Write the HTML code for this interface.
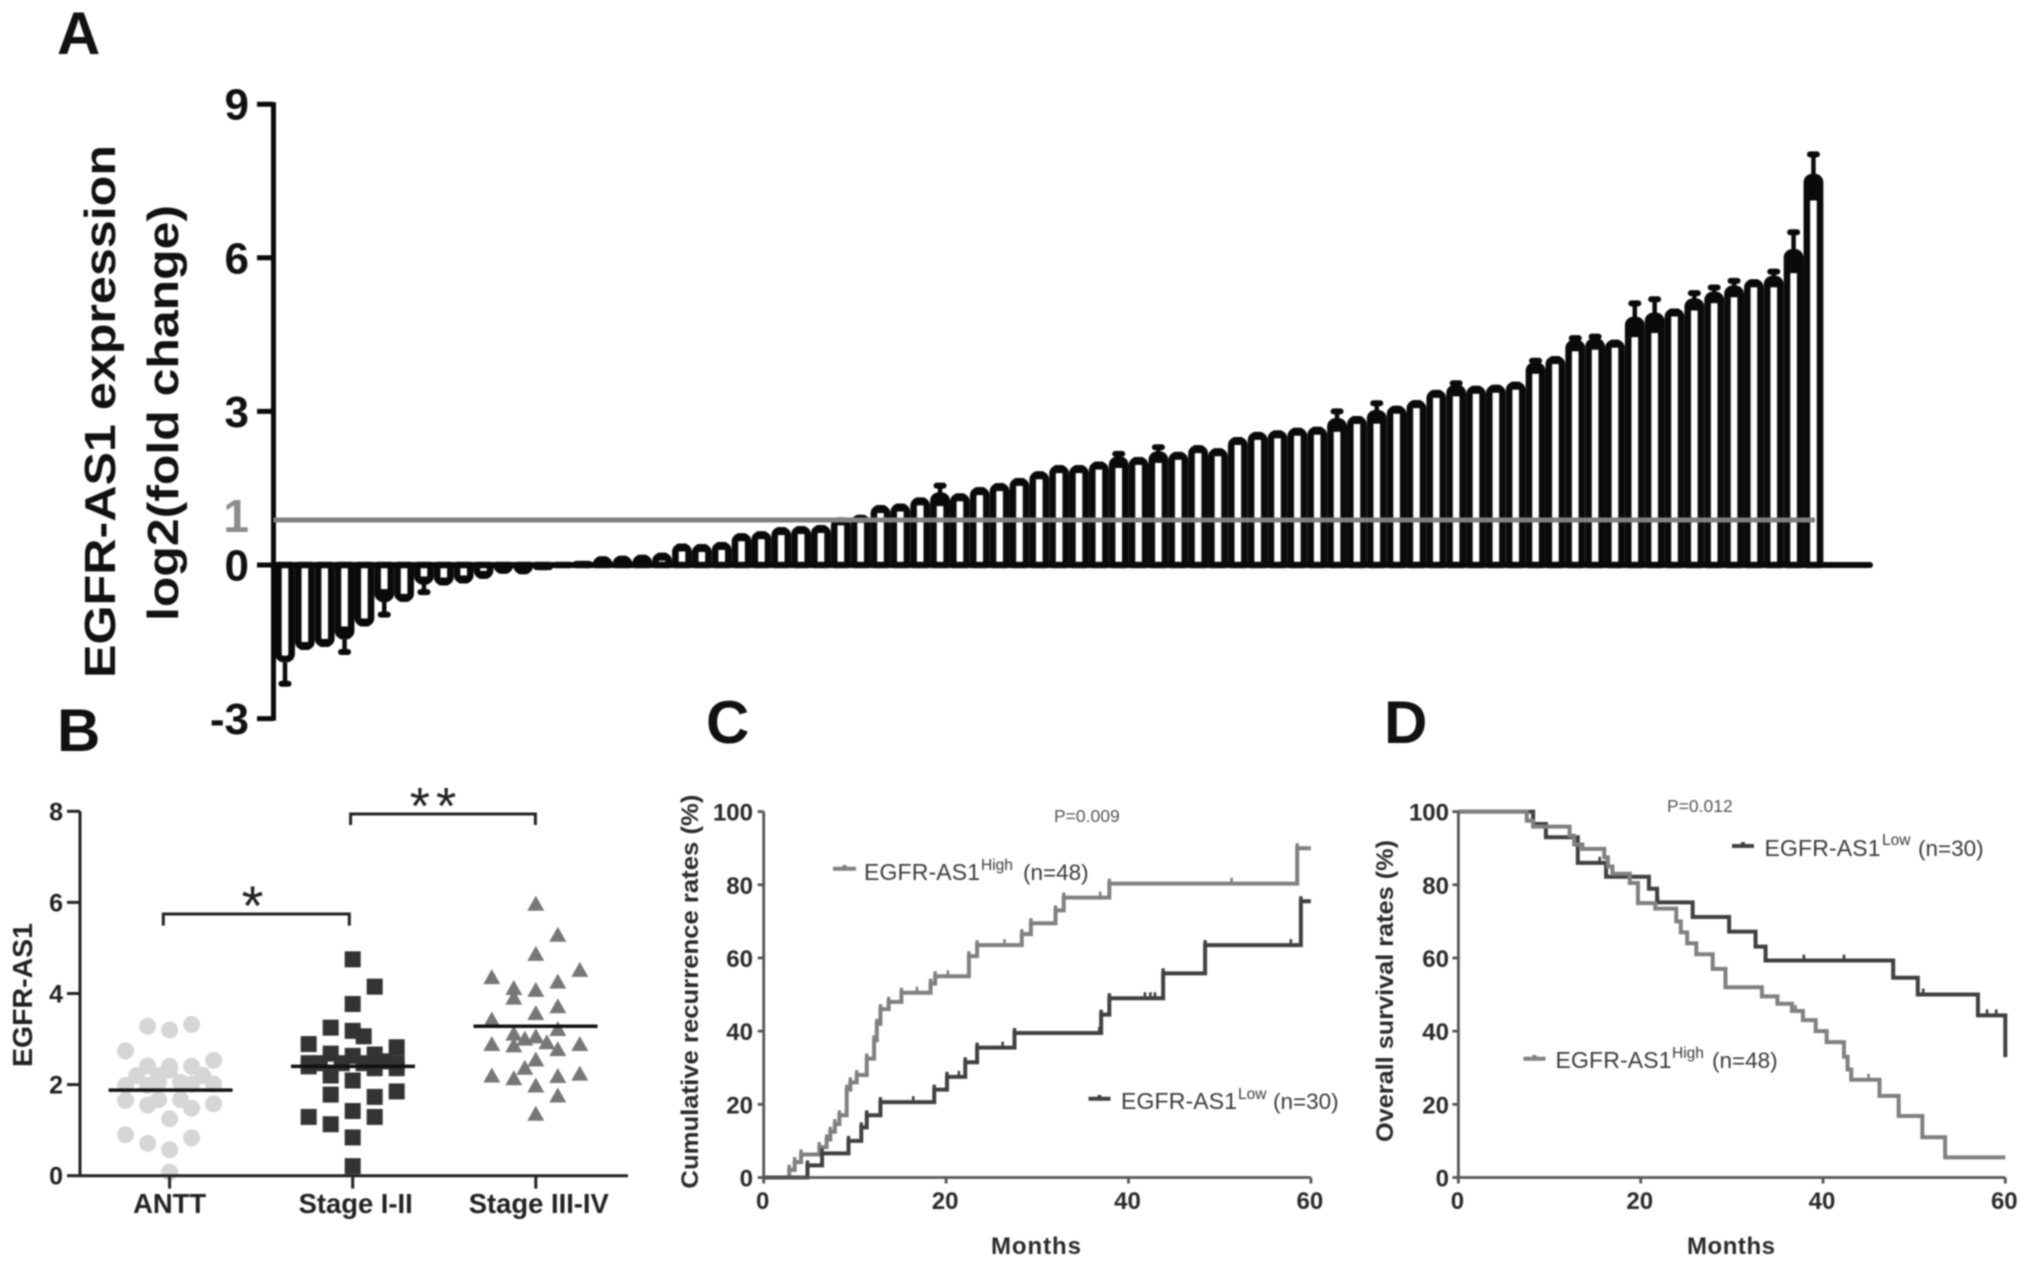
<!DOCTYPE html>
<html lang="en">
<head>
<meta charset="utf-8">
<title>EGFR-AS1 expression figure</title>
<style>
html,body{margin:0;padding:0;background:#fff;}
svg{display:block;width:2031px;height:1266px;filter:blur(0.7px);font-family:"Liberation Sans",sans-serif;}
text{font-family:"Liberation Sans",sans-serif;}
.b{font-weight:bold;}
</style>
</head>
<body>
<svg id="fig" xmlns="http://www.w3.org/2000/svg" width="2031" height="1266" viewBox="0 0 2031 1266">
<rect x="0" y="0" width="2031" height="1266" fill="#fff"/>

<text class="b" x="57" y="54" font-size="60" fill="#111">A</text>
<text class="b" x="57" y="751" font-size="60" fill="#111">B</text>
<text class="b" x="706" y="743" font-size="60" fill="#111">C</text>
<text class="b" x="1384" y="743" font-size="60" fill="#111">D</text>

<text class="b" transform="translate(115,678) rotate(-90)" font-size="44" textLength="533" lengthAdjust="spacingAndGlyphs" fill="#111">EGFR-AS1 expression</text>
<text class="b" transform="translate(178,621) rotate(-90)" font-size="44" textLength="416" lengthAdjust="spacingAndGlyphs" fill="#111">log2(fold change)</text>

<text class="b" transform="translate(32,1067) rotate(-90)" font-size="28" textLength="144" lengthAdjust="spacingAndGlyphs" fill="#222">EGFR-AS1</text>
<text x="252.5" y="925" font-size="56" text-anchor="middle" fill="#222">*</text>
<text x="436" y="824" font-size="52" text-anchor="middle" letter-spacing="6" fill="#222">**</text>
<path d="M163.3 925.6V914H349.3V925.6" fill="none" stroke="#222" stroke-width="3"/>
<path d="M350.6 825V814H535.4V825" fill="none" stroke="#222" stroke-width="3"/>

<text class="b" transform="translate(698,1188.6) rotate(-90)" font-size="24" textLength="394" lengthAdjust="spacingAndGlyphs" fill="#2a2a2a">Cumulative recurrence rates (%)</text>
<text class="b" x="991" y="1254" font-size="24" textLength="90" lengthAdjust="spacing" fill="#2a2a2a">Months</text>
<text x="1054" y="822" font-size="17.5" fill="#555">P=0.009</text>
<g>
<path d="M833 868.8H856M844.5 865V869" stroke="#808080" stroke-width="4" fill="none"/>
<text x="864" y="880" font-size="23" textLength="116" fill="#3a3a3a">EGFR-AS1</text>
<text x="981" y="870" font-size="15.5" fill="#3a3a3a">High</text>
<text x="1023" y="880" font-size="22.5" fill="#3a3a3a">(n=48)</text>
</g>
<g>
<path d="M1088.5 1098.7H1110.5M1099.5 1095V1099" stroke="#404040" stroke-width="4" fill="none"/>
<text x="1121" y="1109" font-size="23" textLength="116" fill="#3a3a3a">EGFR-AS1</text>
<text x="1238" y="1099" font-size="15.5" fill="#3a3a3a">Low</text>
<text x="1273" y="1109" font-size="22.5" fill="#3a3a3a">(n=30)</text>
</g>

<text class="b" transform="translate(1393,1142) rotate(-90)" font-size="24" textLength="302" lengthAdjust="spacingAndGlyphs" fill="#2a2a2a">Overall survival rates (%)</text>
<text class="b" x="1687" y="1254" font-size="24" textLength="88" lengthAdjust="spacing" fill="#2a2a2a">Months</text>
<text x="1667" y="812" font-size="17.5" fill="#555">P=0.012</text>
<g>
<path d="M1732 846H1754M1743 842V846" stroke="#404040" stroke-width="4" fill="none"/>
<text x="1764.5" y="856" font-size="23" textLength="116" fill="#3a3a3a">EGFR-AS1</text>
<text x="1882" y="845" font-size="15.5" fill="#3a3a3a">Low</text>
<text x="1918" y="856" font-size="22.5" fill="#3a3a3a">(n=30)</text>
</g>
<g>
<path d="M1523.5 1058.7H1545.5M1534.5 1055V1059" stroke="#808080" stroke-width="4" fill="none"/>
<text x="1555.5" y="1068" font-size="23" textLength="116" fill="#3a3a3a">EGFR-AS1</text>
<text x="1672" y="1058" font-size="15.5" fill="#3a3a3a">High</text>
<text x="1712" y="1068" font-size="22.5" fill="#3a3a3a">(n=48)</text>
</g>
</svg>

<script>
/* Panel A data */
var barValues = [-1.9,-1.66,-1.6,-1.45,-1.2,-0.72,-0.72,-0.38,-0.4,-0.36,-0.27,-0.17,-0.18,-0.1,-0.01,0.08,0.17,0.18,0.2,0.24,0.42,0.41,0.45,0.62,0.66,0.74,0.76,0.78,0.93,0.98,1.17,1.2,1.32,1.35,1.4,1.52,1.6,1.7,1.83,1.95,1.95,2.02,2.05,2.11,2.15,2.21,2.34,2.28,2.5,2.6,2.63,2.68,2.7,2.8,2.91,2.96,3.11,3.22,3.42,3.45,3.5,3.52,3.58,3.89,4.08,4.33,4.36,4.4,4.78,4.86,5.01,5.14,5.27,5.39,5.58,5.58,6.1,7.57];
var barErrors = [0.42,0.03,0.03,0.25,0.03,0.25,0.03,0.15,0.03,0.04,0.03,0.02,0.06,0.02,0,0.02,0.02,0.02,0.02,0.02,0.08,0.03,0.03,0.04,0.03,0.03,0.03,0.03,0.03,0.03,0.03,0.03,0.04,0.2,0.03,0.04,0.04,0.04,0.06,0.06,0.04,0.05,0.12,0.03,0.15,0.04,0.07,0.02,0.04,0.08,0.03,0.04,0.05,0.2,0.03,0.2,0.04,0.05,0.08,0.1,0.08,0.03,0.08,0.1,0.08,0.1,0.1,0.06,0.33,0.33,0.03,0.17,0.15,0.16,0.03,0.15,0.4,0.45];
var aTickValues = [-3,0,3,6,9];
var aTickLabels = ["-3","0","3","6","9"];
var referenceValue = 0.88;
var referenceLabel = "1";

/* Panel B data */
var groupLabels = ["ANTT","Stage I-II","Stage III-IV"];
var bTickValues = [0,2,4,6,8];
var groupMedians = [1.88,2.4,3.28];
var anttValues = [3.28,3.2,3.32,2.74,2.53,2.41,2.4,2.4,2.2,2.2,2.32,2.2,1.98,1.98,2.05,2.05,2.01,2.01,1.65,1.55,1.67,1.67,1.48,1.58,1.25,0.9,0.71,0.83,0.57,0.08];
var anttSlots = [-1,0,1,-2,2,-1,0,1,-1.5,-0.5,0,1.5,-2,-1,-0.5,0.5,1,2,-2,-1,-0.5,0.5,1,2,0,-2,-1,1,0,0];
var earlyValues = [4.75,4.15,3.77,3.25,3.18,3.06,2.89,2.82,2.68,2.63,2.66,2.47,2.47,2.47,2.47,2.51,2.47,2.4,2.2,2.09,2.36,2.36,1.78,1.73,1.85,1.29,1.13,1.42,1.29,0.84,0.21];
var earlySlots = [0,1,0,-1,0,0.5,-2,2,-1,0,1,-2,-1.5,-0.5,0.5,1.5,2,-2,-1,0,1,2,-1,1,2,-2,-1,0,1,0,0];
var lateValues = [5.97,5.29,4.87,4.52,4.36,4.26,4.12,4.08,3.91,3.72,3.57,3.43,3.22,3.12,3.01,3.06,2.93,2.89,2.89,2.86,2.78,2.55,2.37,2.2,2.24,2.14,2.19,1.98,1.76,1.36];
var lateSlots = [0,1,0,2,-2,1,-1,0,-1,1,0,-2,1,-1,-0.5,0,0.5,-2,2,-1,1,0,-0.5,-2,2,-1,1,0,1,0];

/* Panels C and D data */
var kmTickMonths = [0,20,40,60];
var kmTickRates = [0,20,40,60,80,100];
var cHighMonths = [0,2.8,3.4,4.1,6.1,6.9,7.3,7.8,8.3,9.1,9.5,10.2,11.3,12.1,12.4,12.8,13.7,15.1,18.3,18.8,22.5,23.4,28.3,29.3,32,32.9,37.9,58.5,60];
var cHighRates = [0,2.1,4.2,6.3,8.3,10.4,12.5,14.6,17,24,26,28,32.5,37.5,42,46,48,50.5,53,55,60.5,63.5,66.5,69.5,73,76.5,80.3,90,90];
var cHighCensored = [16.8,20.2,26.4,36.9,51.3];
var cLowMonths = [0,4.8,6.4,9.3,10.7,11.3,12.8,18.7,20.1,22.1,23.4,27.5,37,37.9,43.8,48.4,58.9,60];
var cLowRates = [0,3.3,6.6,10,13.7,17,20.6,24,27.5,31.5,35.5,39.5,44.5,49,55.8,63.5,75.5,75.5];
var cLowCensored = [16.4,21.4,26.2,36.8,41.8,42.4,42.9,57.8];
var dLowMonths = [0,8.2,9.6,13.1,16.2,20.9,21.8,25.7,29.7,32.6,33.7,47.7,50.4,57,60];
var dLowRates = [100,96.6,93,86,82.2,78.9,75.2,71.2,67.2,63.1,59.3,54.6,50,44.3,32.9];
var dLowCensored = [15.5,21.9,37.9,42.3,51,58,59];
var dHighMonths = [0,7.5,8.2,12.2,12.7,13.6,16,16.4,16.9,18.8,19.7,21.6,23.9,24.4,25.1,26.1,27.9,29.3,33.3,35,36.6,37.8,39.2,40.4,42.3,42.7,43.1,46.2,48.3,50.9,53.4,60];
var dHighRates = [100,97.5,95.9,93.4,91,89.8,87.5,85,83,80.5,75,73.5,70,67,64,61,57,52,49.5,47.5,45.5,43,40,37,33,29.5,26.7,22.3,16.8,11,5.5,5.5];
var dHighCensored = [37,45];

var svg = document.getElementById('fig');
var NS = 'http://www.w3.org/2000/svg';

function make(tag, parent, props) {
  var el = document.createElementNS(NS, tag);
  for (var k in props) { el.setAttribute(k, props[k]); }
  parent.appendChild(el);
  return el;
}
function makeGroup(name) {
  var g = make('g', svg, {});
  
  
  return g;
}

/* scales */
function aX(i) { return 285 + i * 19.85; }
function aY(v) { return 565 - v * 51.2; }
function bX(g) { return 169.6 + g * 183.1; }
function bY(v) { return 1175.7 - v * 45.55; }
function cX(m) { return 763.7 + m * 9.12; }
function dX(m) { return 1458.4 + m * 9.115; }
function kmY(r) { return 1177.5 - r * 3.659; }

/* ---------- Panel A ---------- */
var barsGroup = makeGroup('a-bars');
var barHalf = 6.6, barStroke = 6.6, barRound = 5;
barValues.forEach(function (v, i) {
  var cx = aX(i), y0 = aY(0), e = barErrors[i];
  var dir = v >= 0 ? 1 : -1;
  var yMean = aY(v);
  var yv = yMean - (dir > 0 && e > 0.09 ? 3.5 : 0);
  var span = Math.abs(yv - y0);
  var top = yv + dir * barStroke / 2;
  var d;
  if (span > barStroke / 2 + barRound) {
    var shoulder = top + dir * barRound;
    var sweep = dir > 0 ? 1 : 0;
    d = 'M' + (cx - barHalf) + ' ' + y0 + 'V' + shoulder +
        'A' + barRound + ' ' + barRound + ' 0 0 ' + sweep + ' ' + (cx - barHalf + barRound) + ' ' + top +
        'H' + (cx + barHalf - barRound) +
        'A' + barRound + ' ' + barRound + ' 0 0 ' + sweep + ' ' + (cx + barHalf) + ' ' + shoulder +
        'V' + y0 + 'Z';
  } else {
    d = 'M' + (cx - barHalf) + ' ' + y0 + 'H' + (cx + barHalf) + 'V' + (y0 - dir * Math.max(span - barStroke / 2, 0)) + 'H' + (cx - barHalf) + 'Z';
  }
  var bar = make('path', barsGroup, {d: d, fill: '#fff', stroke: '#0a0a0a', 'stroke-width': barStroke, 'stroke-linejoin': 'round'});
  
  

  var outer = aY(v + dir * e), inner = aY(v - dir * e);
  /* the first bar only shows its outward whisker */
  if (i > 0) {
    var reach = Math.abs(inner - yMean);
    var fillEnd = reach < 8 ? yMean + dir * 8 : inner;
    if ((dir > 0 && fillEnd > y0) || (dir < 0 && fillEnd < y0)) { fillEnd = y0; }
    var lower = make('line', barsGroup, {x1: cx, x2: cx, y1: yMean, y2: fillEnd, stroke: '#0a0a0a', 'stroke-width': 9});
    
    
  }
  if (e > 0.09) {
    var upper = make('line', barsGroup, {x1: cx, x2: cx, y1: yMean, y2: outer, stroke: '#0a0a0a', 'stroke-width': 4.5});
    
    
    var cap = make('line', barsGroup, {x1: cx - 3.5, x2: cx + 3.5, y1: outer, y2: outer, stroke: '#0a0a0a', 'stroke-width': 6, 'stroke-linecap': 'round'});
    
    
  }
});
var aAxes = makeGroup('a-axes');
var aYAxis = make('line', aAxes, {x1: 273.5, x2: 273.5, y1: aY(9) - 2, y2: aY(-3) + 2, stroke: '#0a0a0a', 'stroke-width': 5});


var aXAxis = make('line', aAxes, {x1: 273.5, x2: 1870, y1: aY(0), y2: aY(0), stroke: '#0a0a0a', 'stroke-width': 6, 'stroke-linecap': 'round'});


aTickValues.forEach(function (v, i) {
  var t = make('line', aAxes, {x1: 257, x2: 273.5, y1: aY(v), y2: aY(v), stroke: '#0a0a0a', 'stroke-width': 5});
  
  
  var l = make('text', aAxes, {x: 249, y: aY(v) + 15.5, 'font-size': 44, 'font-weight': 'bold', 'text-anchor': 'end', fill: '#111'});
  l.textContent = aTickLabels[i];
  
  
});
var refLine = make('line', aAxes, {x1: 273.5, x2: 1815, y1: aY(referenceValue), y2: aY(referenceValue), stroke: '#808080', 'stroke-width': 5});


var refLabel = make('text', aAxes, {x: 249, y: aY(referenceValue) + 12, 'font-size': 46, 'font-weight': 'bold', 'text-anchor': 'end', fill: '#8c8c8c'});
refLabel.textContent = referenceLabel;



/* ---------- Panel B ---------- */
var slotWidth = 22;
var bPoints = makeGroup('b-points');
anttValues.forEach(function (v, i) {
  var c = make('circle', bPoints, {cx: bX(0) + anttSlots[i] * slotWidth, cy: bY(v), r: 8.5, fill: '#d6d6d6'});
  
  
});
earlyValues.forEach(function (v, i) {
  var px = bX(1) + earlySlots[i] * slotWidth, py = bY(v);
  var c = make('rect', bPoints, {x: px - 8, y: py - 8, width: 16, height: 16, fill: '#333'});
  
  
});
lateValues.forEach(function (v, i) {
  var px = bX(2) + lateSlots[i] * slotWidth, py = bY(v);
  var c = make('polygon', bPoints, {points: (px - 8.5) + ',' + (py + 7) + ' ' + (px + 8.5) + ',' + (py + 7) + ' ' + px + ',' + (py - 8), fill: '#777'});
  
  
});
var bAxes = makeGroup('b-axes');
groupMedians.forEach(function (m, g) {
  var cx = [170.6, 353, 535.5][g];
  var ml = make('line', bAxes, {x1: cx - 62, x2: cx + 62, y1: bY(m), y2: bY(m), stroke: '#111', 'stroke-width': 3.5});
  
  
});
var bYAxis = make('line', bAxes, {x1: 80, x2: 80, y1: bY(8), y2: bY(0), stroke: '#222', 'stroke-width': 3});


var bXAxis = make('line', bAxes, {x1: 80, x2: 628, y1: bY(0), y2: bY(0), stroke: '#222', 'stroke-width': 3});


bTickValues.forEach(function (v) {
  var t = make('line', bAxes, {x1: 67, x2: 80, y1: bY(v), y2: bY(v), stroke: '#222', 'stroke-width': 3});
  
  
  var l = make('text', bAxes, {x: 63, y: bY(v) + 9, 'font-size': 25, 'font-weight': 'bold', 'text-anchor': 'end', fill: '#222'});
  l.textContent = String(v);
  
  
});
groupLabels.forEach(function (name, g) {
  var t = make('line', bAxes, {x1: bX(g), x2: bX(g), y1: bY(0), y2: 1188.6, stroke: '#222', 'stroke-width': 3});
  
  
  var l = make('text', bAxes, {x: bX(g) + (g === 0 ? 0 : 3), y: 1213, 'font-size': 27.4, 'font-weight': 'bold', 'text-anchor': 'middle', fill: '#222'});
  l.textContent = name;
  
  
});

/* ---------- Kaplan-Meier panels ---------- */
function stepPath(months, rates, xf) {
  var d = 'M' + xf(months[0]) + ' ' + kmY(rates[0]);
  for (var i = 1; i < months.length; i++) {
    d += 'H' + xf(months[i]) + 'V' + kmY(rates[i]);
  }
  return d;
}
function rateAt(months, rates, m) {
  var r = rates[0];
  for (var i = 0; i < months.length; i++) { if (months[i] <= m) { r = rates[i]; } }
  return r;
}
function drawSeries(parent, prefix, months, rates, censored, xf, color, nubs) {
  var p = make('path', parent, {d: stepPath(months, rates, xf), fill: 'none', stroke: color, 'stroke-width': 4, 'stroke-linejoin': 'miter'});
  
  
  censored.forEach(function (m) {
    var y = kmY(rateAt(months, rates, m));
    var c = make('line', parent, {x1: xf(m), x2: xf(m), y1: y - 6, y2: y, stroke: color, 'stroke-width': 2.6});
    
    
  });
  if (nubs) {
    months.forEach(function (m, i) {
      if (i === 0 || i === months.length - 1) { return; }
      var y = kmY(rates[i]);
      var n = make('line', parent, {x1: xf(m), x2: xf(m), y1: y - 5, y2: y, stroke: color, 'stroke-width': 3.4});
      
      
    });
  }
}
function drawKmAxes(prefix, xf, labelRight) {
  var g = makeGroup(prefix + '-axes');
  var yAxis = make('line', g, {x1: xf(0), x2: xf(0), y1: kmY(100), y2: kmY(0), stroke: '#555', 'stroke-width': 2.8});
  
  
  var xAxis = make('line', g, {x1: xf(0), x2: xf(60), y1: kmY(0), y2: kmY(0), stroke: '#555', 'stroke-width': 2.8});
  
  
  kmTickRates.forEach(function (r) {
    var t = make('line', g, {x1: xf(0) - 6, x2: xf(0), y1: kmY(r), y2: kmY(r), stroke: '#555', 'stroke-width': 2.8});
    
    
    var l = make('text', g, {x: labelRight, y: kmY(r) + 9, 'font-size': 24, 'font-weight': 'bold', 'text-anchor': 'end', fill: '#2a2a2a'});
    l.textContent = String(r);
    
    
  });
  kmTickMonths.forEach(function (m) {
    var t = make('line', g, {x1: xf(m), x2: xf(m), y1: kmY(0), y2: kmY(0) + 6, stroke: '#555', 'stroke-width': 2.8});
    
    
    var l = make('text', g, {x: xf(m) - 1, y: 1209, 'font-size': 24, 'font-weight': 'bold', 'text-anchor': 'middle', fill: '#2a2a2a'});
    l.textContent = String(m);
    
    
  });
}
var cCurves = makeGroup('c-curves');
drawSeries(cCurves, 'c-high', cHighMonths, cHighRates, cHighCensored, cX, '#808080', true);
drawSeries(cCurves, 'c-low', cLowMonths, cLowRates, cLowCensored, cX, '#404040', true);
drawKmAxes('c', cX, 753);

var dCurves = makeGroup('d-curves');
drawSeries(dCurves, 'd-low', dLowMonths, dLowRates, dLowCensored, dX, '#404040', false);
drawSeries(dCurves, 'd-high', dHighMonths, dHighRates, dHighCensored, dX, '#808080', false);
drawKmAxes('d', dX, 1449);
</script>
</body>
</html>
